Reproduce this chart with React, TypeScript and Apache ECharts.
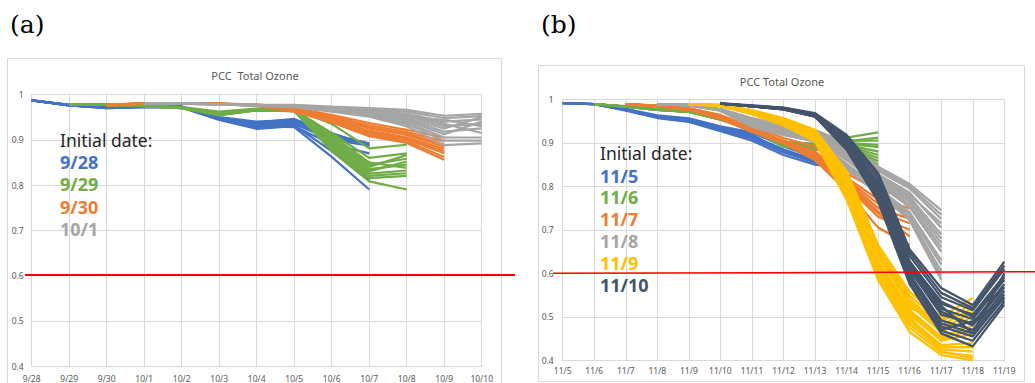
import React, { useEffect, useRef } from 'react';
import * as echarts from 'echarts';

// ---------- categories ----------
const datesA = ['9/28', '9/29', '9/30', '10/1', '10/2', '10/3', '10/4', '10/5', '10/6', '10/7', '10/8', '10/9', '10/10'];
const datesB = ['11/5', '11/6', '11/7', '11/8', '11/9', '11/10', '11/11', '11/12', '11/13', '11/14', '11/15', '11/16', '11/17', '11/18', '11/19'];

const initA = ['9/28', '9/29', '9/30', '10/1'];
const initB = ['11/5', '11/6', '11/7', '11/8', '11/9', '11/10'];

const colorsA = ['#4472C4', '#70AD47', '#ED7D31', '#A5A5A5'];
const colorsB = ['#4472C4', '#70AD47', '#ED7D31', '#A5A5A5', '#FFC000', '#44546A'];

const yMin = 0.4;
const yMax = 1;
const yStep = 0.1;
const threshold = 0.6;

// ---------- panel (a) ensemble members (10 daily values from the initial date) ----------
const ens0928 = [
  [0.987, 0.977, 0.972, 0.974, 0.974, 0.948, 0.935, 0.940, 0.905, 0.890],
  [0.987, 0.976, 0.971, 0.973, 0.972, 0.946, 0.928, 0.935, 0.900, 0.887],
  [0.987, 0.976, 0.970, 0.972, 0.971, 0.944, 0.924, 0.930, 0.890, 0.870],
  [0.987, 0.977, 0.971, 0.973, 0.973, 0.950, 0.940, 0.944, 0.912, 0.892],
  [0.987, 0.976, 0.970, 0.972, 0.972, 0.945, 0.930, 0.928, 0.862, 0.790],
  [0.987, 0.976, 0.971, 0.973, 0.972, 0.947, 0.933, 0.932, 0.875, 0.810],
  [0.987, 0.977, 0.972, 0.974, 0.973, 0.949, 0.938, 0.946, 0.915, 0.886],
  [0.987, 0.976, 0.971, 0.973, 0.972, 0.946, 0.926, 0.938, 0.903, 0.888],
  [0.987, 0.977, 0.971, 0.973, 0.973, 0.948, 0.931, 0.942, 0.908, 0.889],
];
const ens0929 = [
  [0.979, 0.978, 0.976, 0.972, 0.962, 0.969, 0.968, 0.935, 0.881, 0.889],
  [0.978, 0.977, 0.975, 0.971, 0.958, 0.967, 0.966, 0.915, 0.860, 0.870],
  [0.978, 0.977, 0.975, 0.971, 0.957, 0.966, 0.965, 0.905, 0.845, 0.858],
  [0.978, 0.977, 0.975, 0.970, 0.955, 0.966, 0.964, 0.895, 0.835, 0.845],
  [0.978, 0.977, 0.974, 0.970, 0.954, 0.965, 0.963, 0.888, 0.825, 0.832],
  [0.978, 0.977, 0.974, 0.970, 0.956, 0.966, 0.964, 0.880, 0.815, 0.820],
  [0.978, 0.977, 0.974, 0.970, 0.955, 0.965, 0.963, 0.875, 0.808, 0.790],
  [0.978, 0.977, 0.975, 0.971, 0.957, 0.966, 0.965, 0.900, 0.840, 0.866],
  [0.978, 0.977, 0.975, 0.971, 0.956, 0.966, 0.964, 0.893, 0.830, 0.852],
  [0.978, 0.977, 0.974, 0.970, 0.955, 0.965, 0.963, 0.885, 0.820, 0.826],
  [0.978, 0.977, 0.975, 0.970, 0.956, 0.966, 0.964, 0.910, 0.850, 0.838],
];
const ens0930 = [
  [0.977, 0.981, 0.981, 0.980, 0.978, 0.970, 0.955, 0.937, 0.922, 0.905],
  [0.976, 0.981, 0.981, 0.980, 0.977, 0.968, 0.950, 0.928, 0.913, 0.890],
  [0.976, 0.980, 0.980, 0.979, 0.976, 0.966, 0.946, 0.920, 0.905, 0.880],
  [0.976, 0.980, 0.980, 0.979, 0.976, 0.964, 0.942, 0.914, 0.900, 0.870],
  [0.976, 0.980, 0.980, 0.979, 0.975, 0.962, 0.938, 0.908, 0.893, 0.856],
  [0.976, 0.981, 0.981, 0.980, 0.977, 0.967, 0.948, 0.925, 0.910, 0.885],
  [0.976, 0.980, 0.980, 0.979, 0.976, 0.965, 0.944, 0.917, 0.902, 0.875],
  [0.976, 0.980, 0.980, 0.979, 0.975, 0.963, 0.940, 0.911, 0.896, 0.862],
  [0.977, 0.981, 0.981, 0.980, 0.977, 0.969, 0.952, 0.932, 0.917, 0.897],
];
const ens1001 = [
  [0.981, 0.980, 0.979, 0.977, 0.977, 0.973, 0.970, 0.966, 0.953, 0.957],
  [0.981, 0.980, 0.979, 0.977, 0.976, 0.970, 0.965, 0.958, 0.940, 0.945],
  [0.981, 0.980, 0.979, 0.976, 0.975, 0.968, 0.962, 0.952, 0.930, 0.935],
  [0.981, 0.980, 0.978, 0.976, 0.974, 0.966, 0.958, 0.945, 0.918, 0.925],
  [0.981, 0.980, 0.978, 0.976, 0.973, 0.964, 0.955, 0.938, 0.905, 0.905],
  [0.981, 0.979, 0.978, 0.975, 0.972, 0.962, 0.951, 0.930, 0.888, 0.892],
  [0.981, 0.980, 0.979, 0.977, 0.975, 0.969, 0.963, 0.955, 0.935, 0.915],
  [0.981, 0.980, 0.978, 0.976, 0.974, 0.967, 0.960, 0.948, 0.925, 0.950],
  [0.981, 0.980, 0.979, 0.977, 0.976, 0.971, 0.967, 0.962, 0.948, 0.952],
  [0.981, 0.980, 0.978, 0.976, 0.974, 0.965, 0.957, 0.942, 0.912, 0.940],
  [0.981, 0.980, 0.978, 0.976, 0.973, 0.963, 0.953, 0.935, 0.898, 0.898],
  [0.981, 0.980, 0.979, 0.976, 0.975, 0.968, 0.961, 0.950, 0.944, 0.930],
];

// ---------- panel (b) ensemble members ----------
const ens1105 = [
  [0.991, 0.989, 0.978, 0.963, 0.956, 0.938, 0.924, 0.892, 0.866, 0.850],
  [0.991, 0.989, 0.976, 0.960, 0.953, 0.934, 0.916, 0.885, 0.860, 0.846],
  [0.991, 0.989, 0.975, 0.958, 0.950, 0.930, 0.910, 0.878, 0.855, 0.843],
  [0.991, 0.989, 0.974, 0.957, 0.948, 0.927, 0.905, 0.872, 0.850, 0.842],
  [0.991, 0.989, 0.977, 0.961, 0.955, 0.936, 0.919, 0.880, 0.862, 0.848],
  [0.991, 0.989, 0.976, 0.959, 0.951, 0.932, 0.913, 0.882, 0.858, 0.844],
];
const ens1106 = [
  [0.989, 0.984, 0.978, 0.974, 0.958, 0.936, 0.902, 0.898, 0.912, 0.924],
  [0.989, 0.983, 0.977, 0.973, 0.956, 0.933, 0.898, 0.893, 0.905, 0.905],
  [0.989, 0.983, 0.977, 0.972, 0.955, 0.931, 0.895, 0.890, 0.900, 0.895],
  [0.989, 0.983, 0.976, 0.972, 0.954, 0.930, 0.893, 0.887, 0.895, 0.880],
  [0.989, 0.983, 0.976, 0.971, 0.953, 0.929, 0.891, 0.884, 0.890, 0.865],
  [0.989, 0.983, 0.977, 0.972, 0.955, 0.932, 0.896, 0.889, 0.892, 0.850],
  [0.989, 0.983, 0.976, 0.971, 0.954, 0.930, 0.893, 0.886, 0.887, 0.834],
  [0.989, 0.983, 0.977, 0.973, 0.956, 0.933, 0.899, 0.894, 0.903, 0.912],
  [0.989, 0.983, 0.977, 0.972, 0.955, 0.932, 0.897, 0.891, 0.898, 0.890],
  [0.989, 0.983, 0.976, 0.971, 0.954, 0.930, 0.894, 0.887, 0.893, 0.872],
  [0.989, 0.983, 0.976, 0.971, 0.953, 0.929, 0.892, 0.885, 0.889, 0.858],
];
const ens1107 = [
  [0.989, 0.986, 0.980, 0.964, 0.937, 0.911, 0.891, 0.830, 0.790, 0.775],
  [0.989, 0.985, 0.978, 0.960, 0.932, 0.905, 0.880, 0.820, 0.770, 0.750],
  [0.989, 0.985, 0.977, 0.958, 0.929, 0.902, 0.872, 0.812, 0.750, 0.725],
  [0.989, 0.984, 0.976, 0.956, 0.926, 0.900, 0.865, 0.800, 0.730, 0.700],
  [0.989, 0.984, 0.976, 0.955, 0.925, 0.899, 0.860, 0.790, 0.705, 0.665],
  [0.989, 0.985, 0.978, 0.959, 0.930, 0.904, 0.876, 0.815, 0.760, 0.740],
  [0.989, 0.985, 0.977, 0.957, 0.928, 0.901, 0.870, 0.808, 0.742, 0.715],
  [0.989, 0.984, 0.977, 0.957, 0.927, 0.900, 0.868, 0.803, 0.738, 0.685],
];
const ens1108 = [
  [0.989, 0.987, 0.978, 0.957, 0.941, 0.929, 0.900, 0.845, 0.805, 0.745],
  [0.989, 0.987, 0.977, 0.953, 0.937, 0.925, 0.890, 0.835, 0.795, 0.725],
  [0.989, 0.987, 0.977, 0.950, 0.934, 0.922, 0.882, 0.828, 0.785, 0.705],
  [0.989, 0.987, 0.976, 0.947, 0.930, 0.917, 0.875, 0.820, 0.775, 0.690],
  [0.989, 0.986, 0.976, 0.944, 0.927, 0.913, 0.867, 0.812, 0.765, 0.670],
  [0.989, 0.986, 0.975, 0.941, 0.924, 0.909, 0.860, 0.805, 0.752, 0.650],
  [0.989, 0.986, 0.975, 0.939, 0.921, 0.906, 0.852, 0.797, 0.740, 0.630],
  [0.989, 0.986, 0.975, 0.937, 0.918, 0.903, 0.843, 0.788, 0.728, 0.605],
  [0.989, 0.986, 0.974, 0.937, 0.918, 0.904, 0.838, 0.785, 0.722, 0.585],
  [0.989, 0.987, 0.976, 0.945, 0.928, 0.915, 0.870, 0.818, 0.770, 0.680],
  [0.989, 0.987, 0.977, 0.955, 0.939, 0.927, 0.895, 0.840, 0.800, 0.735],
  [0.989, 0.987, 0.976, 0.949, 0.932, 0.920, 0.878, 0.824, 0.780, 0.715],
  [0.989, 0.986, 0.975, 0.942, 0.925, 0.911, 0.863, 0.808, 0.758, 0.660],
  [0.989, 0.986, 0.975, 0.938, 0.920, 0.905, 0.848, 0.792, 0.735, 0.620],
  [0.989, 0.986, 0.974, 0.938, 0.919, 0.904, 0.840, 0.787, 0.725, 0.595],
];
const ens1109 = [
  [0.989, 0.987, 0.975, 0.957, 0.930, 0.835, 0.665, 0.557, 0.500, 0.543],
  [0.989, 0.987, 0.973, 0.953, 0.925, 0.822, 0.650, 0.540, 0.480, 0.520],
  [0.989, 0.986, 0.971, 0.950, 0.920, 0.812, 0.638, 0.528, 0.465, 0.500],
  [0.989, 0.986, 0.970, 0.948, 0.916, 0.803, 0.628, 0.515, 0.455, 0.480],
  [0.989, 0.986, 0.969, 0.946, 0.913, 0.795, 0.618, 0.505, 0.445, 0.460],
  [0.989, 0.986, 0.968, 0.944, 0.910, 0.787, 0.608, 0.495, 0.435, 0.440],
  [0.989, 0.985, 0.967, 0.942, 0.906, 0.778, 0.598, 0.483, 0.425, 0.420],
  [0.989, 0.985, 0.966, 0.940, 0.903, 0.770, 0.585, 0.465, 0.412, 0.400],
  [0.989, 0.986, 0.969, 0.946, 0.912, 0.798, 0.625, 0.520, 0.495, 0.510],
  [0.989, 0.986, 0.968, 0.944, 0.909, 0.790, 0.612, 0.500, 0.420, 0.405],
  [0.989, 0.987, 0.974, 0.955, 0.927, 0.828, 0.657, 0.548, 0.490, 0.530],
  [0.989, 0.986, 0.972, 0.951, 0.922, 0.817, 0.644, 0.534, 0.472, 0.510],
  [0.989, 0.986, 0.969, 0.947, 0.914, 0.799, 0.622, 0.510, 0.450, 0.470],
  [0.989, 0.985, 0.967, 0.943, 0.908, 0.783, 0.603, 0.490, 0.430, 0.430],
  [0.989, 0.985, 0.966, 0.941, 0.904, 0.774, 0.592, 0.475, 0.418, 0.410],
];
const ens1110 = [
  [0.991, 0.986, 0.981, 0.968, 0.918, 0.830, 0.655, 0.566, 0.527, 0.627],
  [0.990, 0.985, 0.980, 0.966, 0.913, 0.820, 0.640, 0.545, 0.515, 0.610],
  [0.990, 0.985, 0.979, 0.965, 0.908, 0.810, 0.628, 0.530, 0.505, 0.595],
  [0.990, 0.985, 0.979, 0.964, 0.904, 0.802, 0.618, 0.518, 0.495, 0.585],
  [0.990, 0.984, 0.978, 0.963, 0.900, 0.795, 0.608, 0.505, 0.485, 0.575],
  [0.990, 0.984, 0.978, 0.962, 0.895, 0.786, 0.598, 0.492, 0.470, 0.560],
  [0.990, 0.984, 0.977, 0.961, 0.890, 0.776, 0.588, 0.478, 0.455, 0.545],
  [0.990, 0.984, 0.977, 0.960, 0.884, 0.765, 0.575, 0.462, 0.432, 0.528],
  [0.990, 0.985, 0.979, 0.965, 0.910, 0.805, 0.622, 0.525, 0.462, 0.600],
  [0.990, 0.984, 0.978, 0.963, 0.898, 0.790, 0.602, 0.470, 0.490, 0.540],
  [0.990, 0.985, 0.980, 0.966, 0.915, 0.825, 0.648, 0.555, 0.520, 0.618],
  [0.990, 0.985, 0.979, 0.965, 0.906, 0.807, 0.625, 0.535, 0.500, 0.590],
  [0.990, 0.984, 0.978, 0.963, 0.902, 0.798, 0.612, 0.512, 0.480, 0.568],
  [0.990, 0.984, 0.977, 0.962, 0.892, 0.781, 0.592, 0.485, 0.462, 0.552],
  [0.990, 0.984, 0.977, 0.960, 0.887, 0.770, 0.580, 0.468, 0.445, 0.535],
];

const groupsA = [ens0928, ens0929, ens0930, ens1001];
const groupsB = [ens1105, ens1106, ens1107, ens1108, ens1109, ens1110];

const GRID = '#D9D9D9';
const LABEL = '#595959';

function buildSeries(groups: number[][][], inits: string[], dates: string[], colors: string[], idx: number, width: number) {
  const out: any[] = [];
  groups.forEach((members, gi) => {
    const offset = dates.indexOf(inits[gi]);
    members.forEach((vals) => {
      const data = dates.map((_, i) => (i >= offset && i - offset < vals.length ? vals[i - offset] : null));
      out.push({
        type: 'line',
        xAxisIndex: idx,
        yAxisIndex: idx,
        data,
        symbol: 'none',
        showSymbol: false,
        silent: true,
        connectNulls: false,
        lineStyle: { color: colors[gi], width },
        itemStyle: { color: colors[gi] },
        z: 2,
      });
    });
  });
  return out;
}

function xAxis(dates: string[], idx: number, margin: number) {
  return {
    type: 'category',
    gridIndex: idx,
    data: dates,
    boundaryGap: false,
    axisLine: { show: true, lineStyle: { color: GRID, width: 1 } },
    axisTick: { show: false },
    splitLine: { show: true, lineStyle: { color: GRID, width: 1 } },
    axisLabel: { interval: 0, fontSize: 8.5, color: LABEL, margin, fontFamily: 'Noto Sans' },
  };
}

function yAxis(idx: number, margin: number) {
  return {
    type: 'value',
    gridIndex: idx,
    min: yMin,
    max: yMax,
    interval: yStep,
    axisLine: { show: false },
    axisTick: { show: false },
    splitLine: { show: true, lineStyle: { color: GRID, width: 1 } },
    axisLabel: {
      fontSize: 8.5,
      color: LABEL,
      margin,
      fontFamily: 'Noto Sans',
      formatter: (v: number) => (Math.abs(v - 1) < 1e-6 ? '1' : v.toFixed(1)),
    },
  };
}

function txt(text: string, x: number, y: number, size: number, weight: string, fill: string, align = 'left', family = '"Noto Sans"') {
  return {
    type: 'text',
    x,
    y,
    silent: true,
    z: 50,
    style: {
      text,
      font: `${weight} ${size}px ${family}`,
      fill,
      align,
      textAlign: align,
      verticalAlign: 'middle',
      textVerticalAlign: 'middle',
      lineHeight: size,
    },
  };
}

export default function App() {
  const ref = useRef<HTMLDivElement>(null);
  useEffect(() => {
    if (!ref.current) return;
    const chart = echarts.init(ref.current, null, { renderer: 'svg' });
    chart.setOption({
      animation: false,
      backgroundColor: '#ffffff',
      grid: [
        { left: 31.7, top: 94.5, width: 450, height: 271.5 },
        { left: 562.7, top: 99.3, width: 441.6, height: 261 },
      ],
      xAxis: [xAxis(datesA, 0, 8), xAxis(datesB, 1, 6)],
      yAxis: [yAxis(0, 8), yAxis(1, 9)],
      series: [
        ...buildSeries(groupsA, initA, datesA, colorsA, 0, 2.2),
        ...buildSeries(groupsB, initB, datesB, colorsB, 1, 2.3),
      ],
    });

    const yA = chart.convertToPixel({ gridIndex: 0 }, [0, threshold])[1];
    const yB = chart.convertToPixel({ gridIndex: 1 }, [0, threshold])[1];

    const graphics: any[] = [
      { type: 'rect', shape: { x: 7.5, y: 58.5, width: 494, height: 340 }, style: { fill: 'none', stroke: GRID, lineWidth: 1 }, silent: true, z: 0 },
      { type: 'rect', shape: { x: 538.5, y: 65.5, width: 486, height: 316 }, style: { fill: 'none', stroke: GRID, lineWidth: 1 }, silent: true, z: 0 },
      txt('(a)', 10, 24, 25, 'normal', '#000000', 'left', '"DejaVu Serif"'),
      txt('(b)', 541, 24, 25, 'normal', '#000000', 'left', '"DejaVu Serif"'),
      txt('PCC  Total Ozone', 255, 75, 11, 'normal', LABEL, 'center'),
      txt('PCC Total Ozone', 782, 81, 11, 'normal', LABEL, 'center'),
      txt('Initial date:', 60, 140, 17.5, 'normal', '#262626'),
      txt('Initial date:', 600, 152.5, 17.5, 'normal', '#262626'),
      { type: 'line', shape: { x1: 25, y1: yA - 0.5, x2: 515, y2: yA - 0.5 }, style: { stroke: '#FF0000', lineWidth: 2 }, silent: true, z: 40 },
      { type: 'line', shape: { x1: 553, y1: yB, x2: 1035, y2: yB - 1.5 }, style: { stroke: '#FF0000', lineWidth: 1.5 }, silent: true, z: 40 },
    ];
    initA.forEach((d, i) => graphics.push(txt(d, 60, 162 + i * 22.4, 18, 'bold', colorsA[i])));
    initB.forEach((d, i) => graphics.push(txt(d, 600, 175.5 + i * 21.9, 18, 'bold', colorsB[i])));
    chart.setOption({ graphic: graphics });

    return () => chart.dispose();
  }, []);
  return <div ref={ref} style={{ position: 'fixed', left: 0, top: 0, width: 1035, height: 383 }} />;
}
